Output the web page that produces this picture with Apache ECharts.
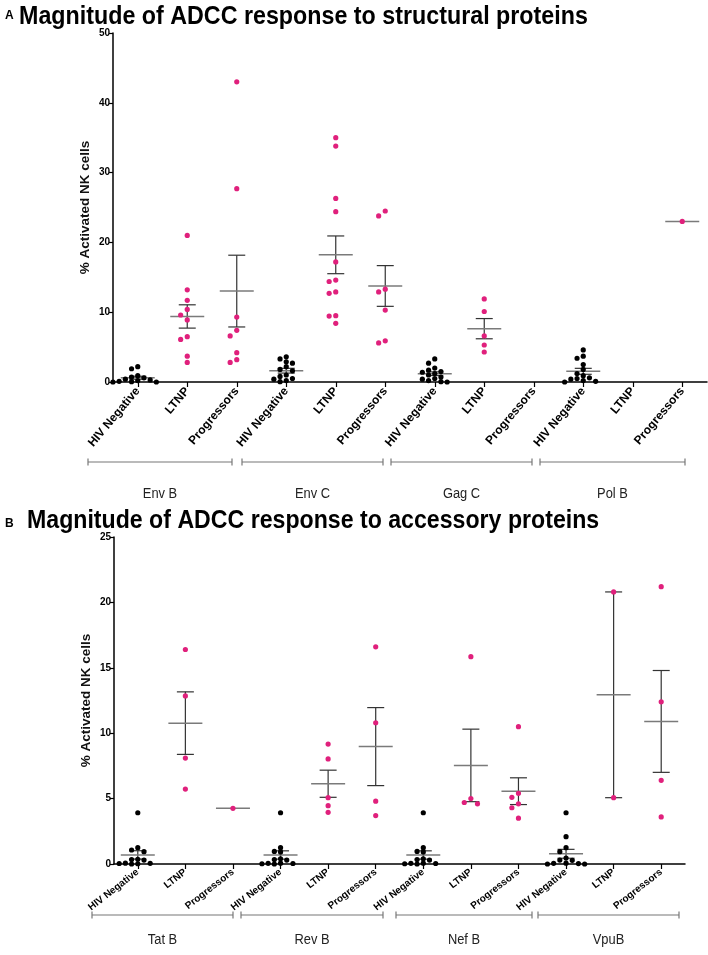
<!DOCTYPE html>
<html><head><meta charset="utf-8">
<script src="https://cdn.jsdelivr.net/npm/echarts@6/dist/echarts.min.js"></script>
<style>html,body{margin:0;padding:0;background:#fff}#c{width:708px;height:955px}</style>
</head><body><div id="c"></div>
<script>
// ---------- categories / labels ----------
const cohorts = ['HIV Negative', 'LTNP', 'Progressors'];
const structuralProteins = ['Env B', 'Env C', 'Gag C', 'Pol B'];
const accessoryProteins = ['Tat B', 'Rev B', 'Nef B', 'VpuB'];
const titleA = 'Magnitude of ADCC response to structural proteins';
const titleB = 'Magnitude of ADCC response to accessory proteins';
const yName = '% Activated NK cells';
const structTicks = [0, 10, 20, 30, 40, 50];
const accTicks = [0, 5, 10, 15, 20, 25];

// ---------- panel A values (% activated NK cells) ----------
const envB_neg  = [2.2, 1.9, 0.9, 0.7, 0.6, 0.4, 0.3, 0.2, 0.1, 0.05, 0.0, 0.0];
const envB_ltnp = [21.0, 13.2, 11.7, 10.4, 9.6, 8.9, 6.5, 6.1, 3.7, 2.8];
const envB_prog = [43.0, 27.7, 9.3, 7.4, 6.6, 4.2, 3.2, 2.8];
const envC_neg  = [3.6, 3.3, 2.9, 2.7, 2.2, 1.8, 1.6, 1.0, 0.8, 0.5, 0.4, 0.2, 0.05];
const envC_ltnp = [35.0, 33.8, 26.3, 24.4, 17.2, 14.6, 14.4, 12.9, 12.7, 9.5, 9.45, 8.4];
const envC_prog = [24.5, 23.8, 13.3, 12.9, 10.3, 5.9, 5.6];
const gagC_neg  = [3.3, 2.7, 2.0, 1.7, 1.5, 1.4, 1.2, 1.0, 0.7, 0.5, 0.4, 0.2, 0.05, 0.0];
const gagC_ltnp = [11.9, 10.1, 6.6, 5.3, 4.3];
const gagC_prog = [];
const polB_neg  = [4.6, 3.7, 3.4, 2.5, 1.8, 1.2, 0.9, 0.6, 0.5, 0.4, 0.2, 0.1, 0.0];
const polB_ltnp = [];
const polB_prog = [23.0];

// ---------- panel B values ----------
const tatB_neg  = [3.92, 1.25, 1.07, 0.94, 0.36, 0.34, 0.3, 0.06, 0.05, 0.04, 0.02, 0.0];
const tatB_ltnp = [16.4, 12.85, 8.1, 5.73];
const tatB_prog = [4.26];
const revB_neg  = [3.92, 1.25, 0.96, 0.92, 0.4, 0.34, 0.3, 0.06, 0.05, 0.04, 0.02, 0.0];
const revB_ltnp = [9.17, 8.03, 5.07, 4.46, 3.95];
const revB_prog = [16.6, 10.8, 4.8, 3.7];
const nefB_neg  = [3.92, 1.25, 0.96, 0.92, 0.4, 0.34, 0.3, 0.06, 0.05, 0.04, 0.02, 0.0];
const nefB_ltnp = [15.85, 5.0, 4.7, 4.6];
const nefB_prog = [10.5, 5.4, 5.1, 4.6, 4.3, 3.5];
const vpuB_neg  = [3.92, 2.09, 1.25, 0.94, 0.45, 0.3, 0.28, 0.06, 0.05, 0.03, 0.0, 0.0];
const vpuB_ltnp = [20.8, 5.07];
const vpuB_prog = [21.2, 12.4, 6.4, 3.6];

const groupsA = [envB_neg, envB_ltnp, envB_prog, envC_neg, envC_ltnp, envC_prog,
                 gagC_neg, gagC_ltnp, gagC_prog, polB_neg, polB_ltnp, polB_prog];
const groupsB = [tatB_neg, tatB_ltnp, tatB_prog, revB_neg, revB_ltnp, revB_prog,
                 nefB_neg, nefB_ltnp, nefB_prog, vpuB_neg, vpuB_ltnp, vpuB_prog];

// ---------- styling ----------
const PINK = '#e0207c';
const BLACK = '#000';
const FONT = "'Liberation Sans', Arial, sans-serif";

const chart = echarts.init(document.getElementById('c'), null, {renderer: 'canvas'});

function catData(proteins) {
  const out = [];
  proteins.forEach(p => cohorts.forEach(c => out.push(c + '|' + p)));
  return out;
}
function mean(a) { return a.reduce((s, v) => s + v, 0) / a.length; }
function sem(a) {
  const m = mean(a);
  const sd = Math.sqrt(a.reduce((s, v) => s + (v - m) * (v - m), 0) / (a.length - 1));
  return sd / Math.sqrt(a.length);
}

function swarmSeries(gi, groups) {
  return {
    type: 'custom', xAxisIndex: gi, yAxisIndex: gi, clip: false,
    data: groups.map((g, i) => [i, g.length ? mean(g) : 0]),
    renderItem(params, api) {
      const idx = api.value(0);
      const vals = groups[params.dataIndex];
      if (!vals.length) return null;
      const isNeg = idx % 3 === 0;
      const color = isNeg ? BLACK : PINK;
      const cx = api.coord([idx, 0])[0];
      const ch = [];
      const m = mean(vals);
      const my = api.coord([idx, m])[1];
      if (vals.length > 1) {
        const s = sem(vals);
        const yt = api.coord([idx, m + s])[1];
        const yb = api.coord([idx, m - s])[1];
        const st = {stroke: '#333', lineWidth: 1.2};
        ch.push({type: 'line', shape: {x1: cx, y1: yt, x2: cx, y2: yb}, style: st, z2: 1});
        ch.push({type: 'line', shape: {x1: cx - 8.5, y1: yt, x2: cx + 8.5, y2: yt}, style: st, z2: 1});
        ch.push({type: 'line', shape: {x1: cx - 8.5, y1: yb, x2: cx + 8.5, y2: yb}, style: st, z2: 1});
      }
      ch.push({type: 'line', shape: {x1: cx - 17, y1: my, x2: cx + 17, y2: my},
               style: {stroke: '#7a7a7a', lineWidth: 1.5}, z2: 2});
      // beeswarm placement
      const D = isNeg ? 6.2 : 6.6, T = isNeg ? 4.3 : 6, R = 2.6;
      const placed = [];
      vals.slice().sort((a, b) => b - a).forEach(v => {
        const py = api.coord([idx, v])[1];
        for (let k = 0; k < 20; k++) {
          const off = k === 0 ? 0 : (k % 2 ? -Math.ceil(k / 2) : Math.ceil(k / 2));
          const px = cx + off * D;
          if (placed.every(p => Math.hypot(p[0] - px, p[1] - py) >= T)) {
            placed.push([px, py]);
            break;
          }
        }
      });
      placed.forEach(p => ch.push({type: 'circle', shape: {cx: p[0], cy: p[1], r: R},
                                   style: {fill: color}, z2: 3}));
      return {type: 'group', children: ch};
    }
  };
}

function yAxis(gi, ticks) {
  return {
    type: 'value', gridIndex: gi, min: ticks[0], max: ticks[ticks.length - 1],
    interval: ticks[1] - ticks[0],
    name: yName, nameLocation: 'middle', nameGap: 21, nameRotate: 90, nameMoveOverlap: false,
    nameTextStyle: {fontFamily: FONT, fontWeight: 'bold', fontSize: 13.5, color: '#111'},
    axisLine: {show: true, lineStyle: {color: '#000', width: 1.5}},
    axisTick: {show: true, length: 4, lineStyle: {color: '#000', width: 1.2}},
    axisLabel: {fontFamily: FONT, fontWeight: 'bold', fontSize: 10, color: '#000', margin: 3},
    splitLine: {show: false}
  };
}
function xAxis(gi, proteins, rot, fs) {
  return {
    type: 'category', gridIndex: gi, data: catData(proteins), boundaryGap: true,
    axisLine: {show: true, lineStyle: {color: '#000', width: 1.5}},
    axisTick: {show: true, alignWithLabel: true, length: 5, lineStyle: {color: '#000', width: 1.2}},
    axisLabel: {interval: 0, rotate: rot, fontFamily: FONT, fontWeight: 'bold', fontSize: fs,
                color: '#000', margin: 7, formatter: v => v.split('|')[0]},
    splitLine: {show: false}
  };
}

// layout of the protein brackets (pixel positions)
const bracketsA = [[88, 232], [242, 383], [391, 532], [540, 685]];
const bracketsB = [[92, 233], [241, 383], [396, 532], [538, 679]];

function bracketGraphics(ranges, names, yLine, yText) {
  const out = [];
  ranges.forEach((r, i) => {
    const st = {stroke: '#777', lineWidth: 1.2};
    out.push({type: 'line', shape: {x1: r[0], y1: yLine, x2: r[1], y2: yLine}, style: st});
    out.push({type: 'line', shape: {x1: r[0], y1: yLine - 3.5, x2: r[0], y2: yLine + 3.5}, style: st});
    out.push({type: 'line', shape: {x1: r[1], y1: yLine - 3.5, x2: r[1], y2: yLine + 3.5}, style: st});
    out.push({type: 'text', x: (r[0] + r[1]) / 2, y: yText, scaleX: 0.92,
              style: {text: names[i], fontFamily: FONT, fontSize: 14, fill: '#222',
                      align: 'center', verticalAlign: 'middle'}});
  });
  return out;
}

const graphics = [
  {type: 'text', x: 5, y: 22, style: {text: 'A', fontFamily: FONT, fontWeight: 'bold', fontSize: 12, fill: '#000', verticalAlign: 'bottom'}},
  {type: 'text', x: 19, y: 4, scaleX: 0.895, style: {text: titleA, fontFamily: FONT, fontWeight: 'bold', fontSize: 26, fill: '#000'}},
  {type: 'text', x: 5, y: 530, style: {text: 'B', fontFamily: FONT, fontWeight: 'bold', fontSize: 12, fill: '#000', verticalAlign: 'bottom'}},
  {type: 'text', x: 27, y: 508, scaleX: 0.89, style: {text: titleB, fontFamily: FONT, fontWeight: 'bold', fontSize: 26, fill: '#000'}}
].concat(bracketGraphics(bracketsA, structuralProteins, 462, 494))
 .concat(bracketGraphics(bracketsB, accessoryProteins, 915, 940));

chart.setOption({
  animation: false,
  backgroundColor: '#fff',
  grid: [
    {left: 113, top: 33, width: 594, height: 349},
    {left: 114, top: 537, width: 571, height: 327}
  ],
  xAxis: [xAxis(0, structuralProteins, 50, 12), xAxis(1, accessoryProteins, 38, 10)],
  yAxis: [yAxis(0, structTicks), yAxis(1, accTicks)],
  series: [swarmSeries(0, groupsA), swarmSeries(1, groupsB)],
  graphic: graphics
});
</script></body></html>
